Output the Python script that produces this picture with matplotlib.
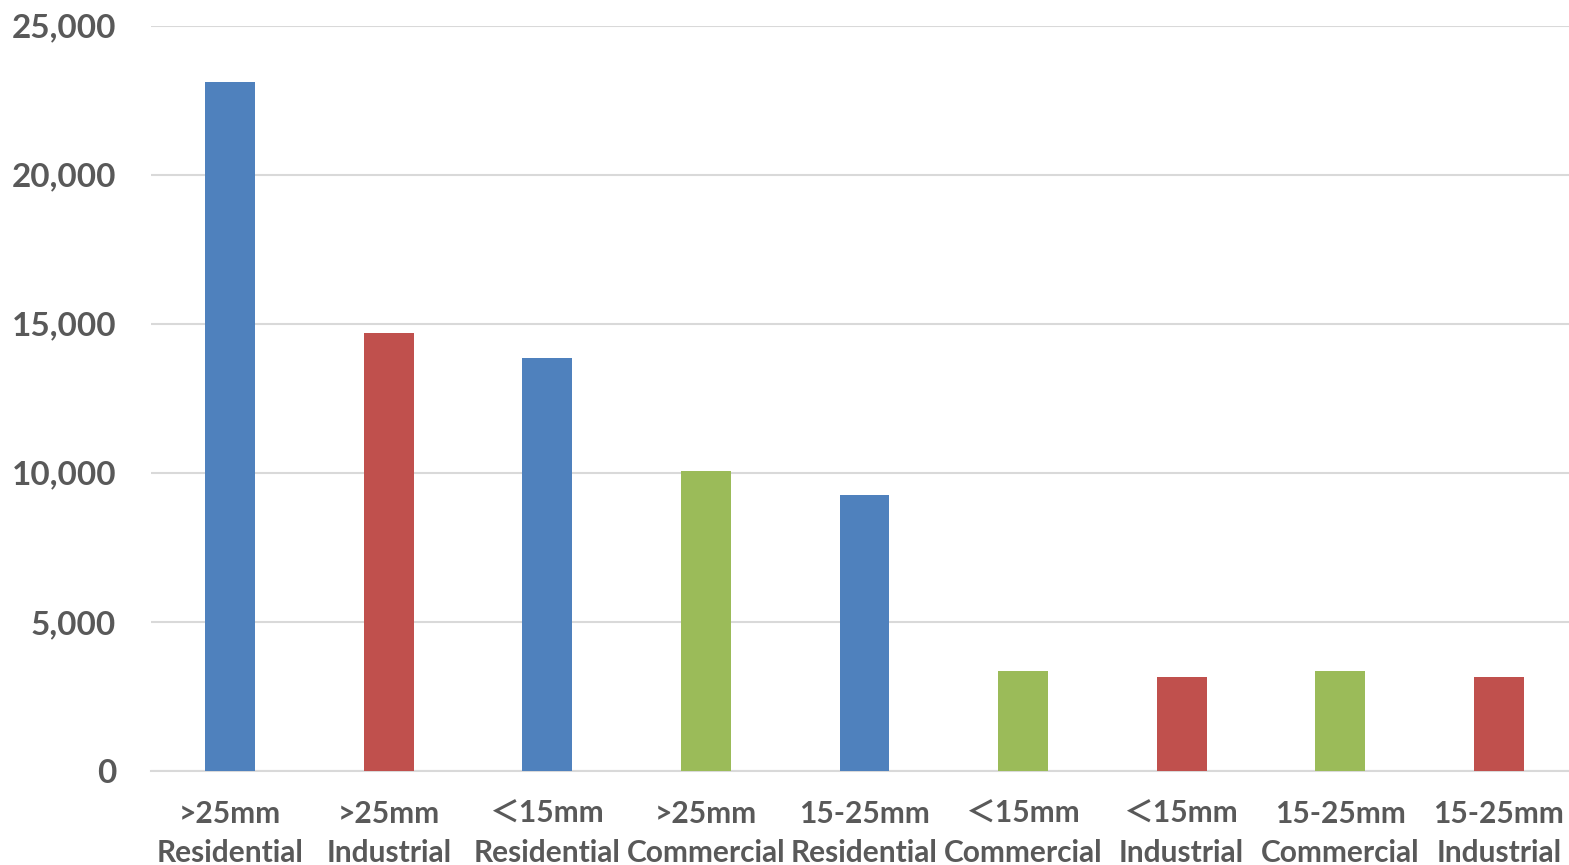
import matplotlib
matplotlib.use("Agg")
import matplotlib.pyplot as plt
from matplotlib.ticker import FuncFormatter

sizes = ['>25mm', '>25mm', '＜15mm', '>25mm', '15-25mm', '＜15mm', '＜15mm', '15-25mm', '15-25mm']
sectors = ['Residential', 'Industrial', 'Residential', 'Commercial', 'Residential',
           'Commercial', 'Industrial', 'Commercial', 'Industrial']
values = [23100, 14700, 13850, 10070, 9240, 3360, 3150, 3360, 3150]
yticks = [0, 5000, 10000, 15000, 20000, 25000]

sector_colors = {'Residential': '#4F81BD', 'Industrial': '#C0504D', 'Commercial': '#9BBB59'}

plt.rcParams['font.family'] = ['Lato', 'Noto Sans CJK SC', 'DejaVu Sans']
plt.rcParams['font.weight'] = 'bold'

W, H = 1569, 865
fig = plt.figure(figsize=(W / 100, H / 100), dpi=100)
# axes spans past the right edge like the original screenshot
ax = fig.add_axes([151 / W, 94 / H, 1427 / W, 745.5 / H])

x = list(range(len(values)))
ax.bar(x, values, width=0.315, color=[sector_colors[s] for s in sectors], zorder=3)

ax.set_xlim(-0.5, len(values) - 0.5)
ax.set_ylim(0, 25000)
ax.set_yticks(yticks)
ax.yaxis.set_major_formatter(FuncFormatter(lambda v, p: f'{int(v):,}'))
ax.grid(axis='y', color='#D9D9D9', linewidth=1.5, zorder=0)

for s in ['top', 'right', 'left']:
    ax.spines[s].set_visible(False)
ax.spines['bottom'].set_color('#D9D9D9')
ax.spines['bottom'].set_linewidth(1.5)

ax.set_xticks(x)
ax.set_xticklabels([f'{a}\n{b}' for a, b in zip(sizes, sectors)], fontsize=21.5,
                   color='#595959', fontweight='bold', linespacing=1.45)
ax.tick_params(axis='x', length=0, pad=21)
ax.tick_params(axis='y', length=0, pad=25, labelsize=24, labelcolor='#595959')
for t in ax.get_yticklabels():
    t.set_fontweight('bold')

fig.savefig('out.png', dpi=100)
